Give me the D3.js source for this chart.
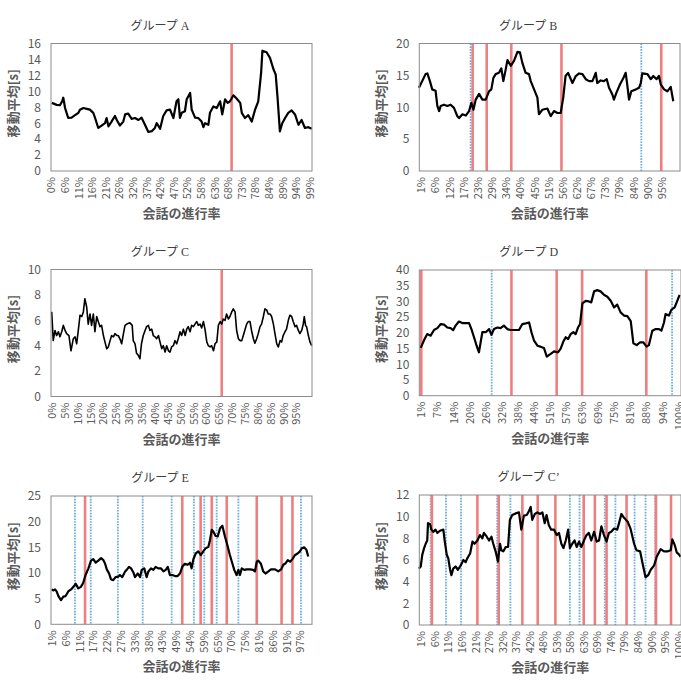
<!DOCTYPE html>
<html>
<head>
<meta charset="utf-8">
<script src="https://cdn.jsdelivr.net/npm/d3@7"></script>
<style>
  body { margin: 0; background: #fff; }
</style>
</head>
<body>
<script>
// ---- データ (x: 会話の進行率 %, y: 移動平均 s) ----

// グループ A
var aLabels = ['0%','6%','11%','16%','21%','26%','32%','37%','42%','47%','52%','58%','63%','68%','73%','78%','84%','89%','94%','99%'];
var aX = [0.3,2.2,3.4,4.3,4.7,5.4,6.6,7.9,9.2,10.5,
  11.1,12.4,13.7,14.9,16.2,16.9,18.1,19.4,20.7,21.3,
  22.0,23.2,24.5,25.2,26.4,27.7,28.4,29.6,30.9,32.2,
  33.5,34.7,36.0,37.3,38.6,39.8,40.5,41.8,43.0,44.3,
  45.6,46.9,48.1,48.8,49.4,50.1,51.3,52.0,53.3,53.9,
  55.2,56.4,57.7,58.4,59.0,60.3,60.9,62.2,63.5,64.8,
  65.6,66.7,67.7,68.6,69.9,71.1,72.5,73.1,74.3,75.6,
  76.9,78.2,79.4,80.5,81.0,82.6,83.9,85.2,86.1,86.8,
  87.7,88.6,89.7,90.9,92.2,93.5,94.8,96.0,97.3,98.6,
  99.9];
var aY = [8.55,8.3,8.25,8.76,9.2,7.9,6.65,6.7,7.0,7.3,
  7.7,7.9,7.8,7.7,7.3,6.65,5.4,5.7,6.0,6.65,
  5.6,6.2,6.9,6.4,5.7,6.2,7.1,7.2,6.55,6.65,
  6.4,6.7,5.8,4.9,5.0,5.4,6.0,5.3,6.9,7.6,
  7.7,6.65,8.75,9.0,6.65,7.3,7.5,9.0,9.8,7.7,
  6.7,6.65,6.2,5.5,6.0,5.8,7.3,8.1,7.9,8.75,
  7.1,9.0,8.55,8.75,9.5,9.1,8.55,7.3,6.65,7.0,
  6.2,7.7,8.75,12.3,15.1,14.9,14.2,12.8,12.1,9.2,
  4.97,6.0,6.65,7.3,7.6,7.1,5.8,6.4,5.4,5.5,
  5.3];
var aRed = [69.2];
var aBlue = [];

// グループ B
var bLabels = ['1%','6%','12%','17%','23%','29%','34%','40%','45%','51%','56%','62%','67%','73%','79%','84%','90%','95%'];
var bX = [0.2,1.5,2.8,3.5,4.5,5.4,6.7,7.4,8.1,8.7,
  10.0,11.3,12.6,13.9,15.2,15.9,17.2,18.5,19.8,20.7,
  21.5,22.4,23.7,25.0,26.3,27.6,28.5,29.3,30.2,31.5,
  32.4,33.2,34.1,34.8,36.1,37.4,38.7,39.7,40.6,41.9,
  43.2,43.9,45.2,46.5,47.1,48.4,50.4,51.7,53.0,54.3,
  55.6,56.6,57.5,58.5,60.2,61.5,62.8,64.1,65.4,66.7,
  68.0,69.3,69.9,71.2,72.5,73.6,74.5,75.8,76.4,77.4,
  78.8,80.1,81.0,81.6,82.3,83.2,84.9,86.2,86.9,87.5,
  89.5,90.8,91.8,93.1,94.0,94.7,96.0,97.3,98.6,99.6];
var bY = [13.05,14.1,15.2,15.3,14.1,12.8,12.6,10.2,9.4,10.2,
  10.4,10.2,10.4,9.9,8.6,8.3,8.9,8.7,9.4,10.7,
  9.6,11.2,12.1,11.2,11.2,12.5,12.8,14.6,15.2,15.4,
  16.1,14.1,15.9,17.4,16.5,17.3,18.7,18.6,17.0,15.4,
  15.2,14.1,12.8,11.5,8.9,9.6,9.8,8.6,9.4,9.1,
  9.1,11.5,14.9,15.4,13.8,14.9,15.3,15.2,14.4,14.1,
  14.1,15.4,13.8,14.2,14.1,14.4,13.05,12.0,11.2,12.3,
  13.6,14.6,15.4,13.6,11.2,12.5,12.8,13.05,13.8,15.3,
  15.2,14.4,14.9,14.4,14.9,13.6,12.8,12.5,13.2,10.95];
var bRed = [21.2,26.7,36.3,55.9,94.9];
var bBlue = [20.4,87.1];

// グループ C
var cLabels = ['0%','5%','10%','15%','20%','25%','30%','35%','40%','45%','50%','55%','60%','65%','70%','75%','80%','85%','90%','95%'];
var cX = [0,0.6,1.3,1.9,2.6,3.2,3.9,4.5,5.2,5.8,
  6.7,7.5,8.4,9.1,9.7,10.4,11.0,11.7,12.3,12.9,
  13.6,14.2,14.9,15.5,16.2,16.8,17.5,18.1,18.8,19.4,
  20.1,20.7,21.4,22.0,22.7,23.3,24.0,24.6,25.3,25.9,
  26.6,27.2,27.9,28.5,29.2,30.4,31.3,31.7,32.4,33.0,
  33.7,34.3,34.9,35.6,36.3,36.9,37.6,38.2,38.9,39.5,
  40.2,40.8,41.5,42.1,42.8,43.4,44.1,44.7,45.4,46.0,
  46.6,47.3,47.9,48.6,49.2,49.9,50.5,51.2,51.9,52.5,
  53.1,53.8,54.4,55.1,55.7,56.4,57.0,57.7,58.3,59.0,
  59.6,60.3,60.9,61.6,62.2,62.9,63.5,64.2,64.8,65.5,
  66.1,66.7,67.4,68.0,68.7,69.3,70.0,70.6,71.3,71.9,
  72.6,73.2,73.9,74.5,75.2,75.8,76.4,77.1,77.7,78.4,
  79.0,79.7,80.3,81.0,81.6,82.3,82.9,83.6,84.2,84.9,
  85.5,86.2,86.8,87.5,88.1,88.8,89.4,90.0,90.7,91.3,
  92.0,92.6,93.3,93.9,94.6,95.2,95.9,96.5,97.2,97.8,
  98.2,98.7,99.1,99.8,100.4,101.1];
var cY = [6.66,4.42,5.2,4.8,5.1,4.7,5.1,5.6,5.2,4.95,
  4.8,3.6,4.55,4.7,4.15,5.3,6.4,6.3,6.66,7.7,
  7.05,5.7,6.5,5.6,6.5,5.1,6.3,5.9,5.5,5.6,
  4.8,4.3,3.76,3.9,4.4,4.8,4.7,4.95,4.8,4.8,
  4.5,4.15,4.95,5.6,5.7,5.8,5.6,4.4,4.15,3.4,
  3.24,2.97,4.15,4.8,5.2,5.5,5.6,5.2,5.3,4.8,
  4.7,4.55,4.8,4.3,3.76,4.0,3.5,4.0,3.6,3.5,
  3.9,4.0,4.4,4.15,4.55,5.1,4.8,5.3,4.8,5.3,
  5.5,5.1,5.6,5.5,5.7,5.9,5.6,5.7,5.4,5.9,
  5.3,4.3,4.0,3.9,4.0,3.6,4.15,4.3,5.6,5.9,
  5.7,6.1,6.0,6.5,6.1,6.3,6.66,6.9,6.66,5.2,
  4.55,4.4,4.4,4.8,5.3,5.7,5.9,5.9,5.2,4.55,
  4.2,4.55,4.95,5.5,5.7,6.3,6.9,6.8,6.5,6.5,
  6.3,5.7,4.95,4.15,3.9,4.4,4.3,4.8,5.1,5.3,
  6.0,6.4,6.3,5.9,5.5,5.6,5.2,4.95,5.2,5.7,
  6.3,5.6,5.5,4.8,4.3,4.0];
var cRed = [66.1];
var cBlue = [];

// グループ D
var dLabels = ['1%','7%','14%','20%','26%','32%','38%','44%','51%','57%','63%','69%','75%','81%','88%','94%','100%'];
var dX = [0.9,2.2,3.4,4.7,6.0,7.3,8.6,9.9,11.1,12.4,
  13.4,14.3,15.6,16.9,18.2,19.5,20.4,21.4,22.4,23.3,
  24.6,25.9,27.2,28.1,29.1,30.4,31.6,32.9,34.2,35.5,
  36.8,38.7,40.0,41.3,42.6,43.5,44.5,45.8,47.0,48.3,
  49.4,50.9,52.2,53.7,54.7,55.8,56.7,57.6,58.6,59.6,
  60.5,61.4,62.2,63.1,64.4,65.6,66.5,67.6,68.8,70.1,
  71.4,72.7,74.0,75.3,76.5,77.8,79.1,80.4,81.7,82.7,
  84.0,85.3,86.5,87.8,88.7,90.0,91.3,92.6,93.5,94.5,
  95.1,96.4,97.3,98.6,99.6,100.5];
var dY = [15.2,17.7,19.6,19.1,20.9,21.5,22.8,22.6,21.7,21.5,
  20.9,22.3,23.6,23.1,23.1,23.1,21.2,18.6,15.9,13.8,
  20.2,20.2,21.2,19.4,21.2,21.7,21.5,22.3,21.2,20.9,
  20.9,20.9,22.8,23.0,23.3,20.2,17.5,15.9,15.6,15.2,
  12.4,13.3,14.1,13.8,14.9,17.3,18.6,18.0,19.6,20.2,
  19.6,21.7,22.8,29.4,30.2,30.0,29.7,33.2,33.6,33.2,
  32.1,31.5,30.2,28.1,29.0,26.5,25.5,25.3,23.7,16.7,
  16.1,17.0,17.0,15.6,16.1,20.7,21.2,21.2,20.7,23.3,
  26.0,25.5,27.3,28.1,30.2,32.1];
var dRed = [1.1,35.8,53.2,63.0,87.7];
var dBlue = [28.2,97.6];

// グループ E
var eLabels = ['1%','6%','11%','17%','22%','27%','33%','38%','43%','49%','54%','59%','65%','70%','75%','81%','86%','91%','97%'];
var eX = [1.0,1.6,2.3,2.9,3.6,4.6,5.5,6.4,7.4,8.5,
  9.4,10.3,11.3,12.3,13.2,14.1,15.2,16.2,17.1,18.0,
  19.0,20.1,21.0,21.6,22.3,23.2,23.9,24.8,25.7,26.8,
  27.4,28.3,29.4,30.0,30.9,31.7,32.6,33.2,34.3,35.2,
  35.8,36.8,37.7,38.4,39.4,40.3,41.2,42.2,43.3,44.2,
  45.1,45.9,46.7,47.6,48.7,49.7,50.6,51.5,52.5,53.6,
  54.5,55.1,55.8,56.7,57.7,58.7,59.6,60.5,61.6,62.2,
  62.9,63.5,64.4,65.2,66.1,67.0,68.0,69.1,69.9,70.9,
  71.6,72.5,73.2,73.8,74.5,75.5,76.4,77.7,78.9,79.6,
  80.3,80.9,81.9,82.8,83.7,84.8,85.8,87.4,88.6,89.7,
  90.6,91.5,92.3,93.2,94.1,95.1,96.1,97.0,97.7,98.7,
  99.5,100.2];
var eY = [6.8,6.6,6.8,6.4,5.5,4.7,5.4,5.5,6.4,6.8,
  7.3,7.9,7.0,7.3,8.1,9.6,10.9,12.4,12.7,12.0,
  12.4,12.9,12.5,11.9,10.7,9.9,8.8,8.6,9.2,9.3,
  9.6,9.2,10.3,10.6,11.2,10.9,10.1,9.2,9.9,9.2,
  10.6,10.9,9.2,10.3,10.9,10.6,11.2,10.9,10.9,10.3,
  10.6,11.2,9.6,9.6,9.4,9.4,9.9,11.2,11.8,11.6,
  12.0,10.9,12.7,13.8,14.2,13.5,14.2,14.8,15.1,16.4,
  18.4,18.1,17.2,17.1,18.7,19.2,17.1,15.1,13.5,11.8,
  10.6,9.6,10.6,9.6,10.9,10.6,10.7,10.7,10.6,10.3,
  12.2,12.4,11.8,10.3,9.9,10.3,10.7,10.7,10.3,10.7,
  11.6,11.9,12.5,12.2,12.7,13.5,13.8,14.2,14.8,15.0,
  14.5,13.2];
var eRed = [13.9,51.5,58.6,62.9,68.7,80.3,89.9,94.1];
var eBlue = [10.0,16.1,26.6,36.2,47.4,56.0,60.0,64.8,73.2,97.4];

// グループ C'
var c2Labels = ['1%','6%','11%','16%','21%','27%','32%','37%','42%','48%','53%','58%','63%','69%','74%','79%','84%','90%','95%','100%'];
var c2X = [0.2,0.9,1.5,2.2,2.8,3.4,3.7,4.5,5.0,5.7,
  6.6,7.3,8.3,9.6,10.1,10.9,11.5,12.2,12.7,13.4,
  14.3,15.2,16.3,17.3,18.2,18.8,19.9,20.8,21.6,22.7,
  23.7,24.6,25.2,26.3,27.2,28.1,28.8,29.7,30.6,31.4,
  31.9,32.7,33.6,34.5,35.2,36.1,37.4,38.7,39.6,40.6,
  41.7,42.5,43.2,43.8,44.8,45.8,46.8,47.7,48.6,49.3,
  50.2,51.1,52.2,53.2,54.1,55.0,55.8,56.7,57.6,58.3,
  59.2,60.1,60.9,61.8,62.7,63.7,64.7,65.6,66.5,67.6,
  68.6,69.5,70.4,71.4,72.4,73.3,74.2,75.3,76.5,77.2,
  78.1,78.8,79.7,80.6,81.6,83.0,83.9,85.3,86.5,87.4,
  88.4,89.4,90.7,91.7,93.2,94.5,96.0,97.1,97.7,98.6,
  99.4,100.3,100.9];
var c2Y = [5.2,5.4,6.5,7.1,7.5,7.8,9.4,9.3,8.8,8.6,
  8.8,8.5,8.7,8.8,7.8,6.5,6.15,5.1,4.6,5.2,
  5.4,5.1,5.5,6.0,5.8,6.15,6.6,7.7,7.5,7.8,
  8.3,8.0,8.5,8.15,7.8,8.15,7.5,6.8,5.85,7.5,
  6.9,6.8,7.2,7.2,9.7,10.15,10.3,10.4,8.8,10.1,
  10.15,10.5,10.9,9.7,10.25,10.4,10.25,10.4,9.4,10.15,
  9.2,8.8,8.8,8.3,8.5,7.5,7.1,7.8,8.8,7.1,
  7.5,7.8,7.2,7.7,7.2,7.8,8.3,8.5,7.8,8.6,
  7.7,7.8,9.1,8.3,7.7,8.5,8.6,8.9,8.8,9.4,
  10.25,10.0,9.75,9.5,8.9,7.5,6.9,6.8,5.4,4.4,
  4.6,5.1,5.5,6.3,7.0,6.8,6.8,6.9,7.9,7.4,
  6.7,6.5,6.3];
var c2Red = [5.2,22.7,30.9,40.0,45.9,52.7,63.6,67.9,72.4,80.1,91.4,97.2];
var c2Blue = [4.7,10.6,16.4,30.3,35.4,58.3,62.0,71.7,75.8,83.2,87.4,91.1];

// ---- レイアウト ----
var panels = [
  { title: 'グループ A', labels: aLabels, xs: aX, ys: aY, red: aRed, blue: aBlue,
    yMax: 16, yStep: 2, box: [51, 312, 43.5, 171], xr: [51, 312], lw: 2.2 },
  { title: 'グループ B', labels: bLabels, xs: bX, ys: bY, red: bRed, blue: bBlue,
    yMax: 20, yStep: 5, box: [419.3, 680, 43.5, 171], xr: [418.4, 674.3], lw: 2.2 },
  { title: 'グループ C', labels: cLabels, xs: cX, ys: cY, red: cRed, blue: cBlue,
    yMax: 10, yStep: 2, box: [51, 312, 269.5, 396.5], xr: [51.7, 308.9], lw: 1.6 },
  { title: 'グループ D', labels: dLabels, xs: dX, ys: dY, red: dRed, blue: dBlue,
    yMax: 40, yStep: 5, box: [419.3, 681, 270, 395.7], xr: [418.4, 678.3], lw: 2.2 },
  { title: 'グループ E', labels: eLabels, xs: eX, ys: eY, red: eRed, blue: eBlue,
    yMax: 25, yStep: 5, box: [51, 312, 496, 624.3], xr: [49.1, 307.7], lw: 2.2 },
  { title: 'グループ C\u2019', labels: c2Labels, xs: c2X, ys: c2Y, red: c2Red, blue: c2Blue,
    yMax: 12, yStep: 2, box: [419.3, 681, 495, 625], xr: [418.4, 678.3], lw: 2.2 }
];

var font = "'Noto Sans CJK JP', 'Noto Sans', sans-serif";
var gray = '#595959';

var svg = d3.select('body')
  .append('svg')
  .attr('width', 681)
  .attr('height', 682);

panels.forEach(function(p) {
  var x0 = p.box[0], x1 = p.box[1], y0 = p.box[2], y1 = p.box[3];
  var x = d3.scaleLinear().domain([0, 100]).range(p.xr);
  var y = d3.scaleLinear().domain([0, p.yMax]).range([y1, y0]);
  var g = svg.append('g');

  // 縦線 (青: 点線, 赤: 実線)
  g.selectAll('line.blue')
    .data(p.blue)
    .enter()
      .append('line')
        .attr('class', 'blue')
        .attr('x1', function(d){ return x(d); })
        .attr('x2', function(d){ return x(d); })
        .attr('y1', y0)
        .attr('y2', y1)
        .attr('stroke', '#6aaee0')
        .attr('stroke-width', 1.8)
        .attr('stroke-dasharray', '1.6,1.2');

  g.selectAll('line.red')
    .data(p.red)
    .enter()
      .append('line')
        .attr('class', 'red')
        .attr('x1', function(d){ return x(d); })
        .attr('x2', function(d){ return x(d); })
        .attr('y1', y0)
        .attr('y2', y1)
        .attr('stroke', '#ef7f7f')
        .attr('stroke-width', 2.6);

  // 移動平均
  var line = d3.line()
    .x(function(d){ return x(d[0]); })
    .y(function(d){ return y(d[1]); });

  g.append('path')
    .datum(d3.zip(p.xs, p.ys))
    .attr('d', line)
    .attr('fill', 'none')
    .attr('stroke', '#000')
    .attr('stroke-width', p.lw)
    .attr('stroke-linejoin', 'round');

  // 枠
  g.append('rect')
    .attr('x', x0)
    .attr('y', y0)
    .attr('width', x1 - x0)
    .attr('height', y1 - y0)
    .attr('fill', 'none')
    .attr('stroke', '#8c8c8c')
    .attr('stroke-width', 1);

  // y軸
  var yAxis = d3.axisLeft(y)
    .tickValues(d3.range(0, p.yMax + 0.001, p.yStep))
    .tickSize(0)
    .tickPadding(10);

  var ya = g.append('g')
    .attr('transform', 'translate(' + x0 + ',0)')
    .call(yAxis);
  ya.select('.domain').remove();
  ya.selectAll('text')
    .attr('font-family', font)
    .attr('font-size', 12)
    .attr('fill', gray);

  // x軸 (ラベルは等間隔)
  var first = parseFloat(p.labels[0]);
  var last = parseFloat(p.labels[p.labels.length - 1]);
  var step = (last - first) / (p.labels.length - 1);
  var tickPos = p.labels.map(function(d, i){ return first + i * step; });

  var xAxis = d3.axisBottom(x)
    .tickValues(tickPos)
    .tickFormat(function(d, i){ return p.labels[i]; })
    .tickSize(0);

  var xa = g.append('g')
    .attr('transform', 'translate(0,' + y1 + ')')
    .call(xAxis);
  xa.select('.domain').remove();
  xa.selectAll('text')
    .attr('font-family', font)
    .attr('font-size', 11)
    .attr('fill', gray)
    .attr('text-anchor', 'end')
    .attr('x', -6)
    .attr('y', 0)
    .attr('dy', '0.35em')
    .attr('transform', 'rotate(-90)');

  // タイトル
  g.append('text')
    .attr('x', (x0 + x1) / 2 - 21.5)
    .attr('y', y0 - 18)
    .attr('dy', '0.35em')
    .attr('text-anchor', 'middle')
    .attr('font-family', "'Liberation Serif', 'Noto Sans CJK JP', serif")
    .attr('font-size', 12)
    .attr('fill', '#404040')
    .text(p.title);

  // 軸タイトル
  g.append('text')
    .attr('transform', 'translate(' + (x0 - 38) + ',' + ((y0 + y1) / 2 - 4) + ') rotate(-90)')
    .attr('dy', '0.35em')
    .attr('text-anchor', 'middle')
    .attr('font-family', font)
    .attr('font-weight', 'bold')
    .attr('font-size', 13)
    .attr('fill', gray)
    .text('移動平均[s]');

  g.append('text')
    .attr('x', (x0 + x1) / 2)
    .attr('y', y1 + 42.5)
    .attr('dy', '0.35em')
    .attr('text-anchor', 'middle')
    .attr('font-family', font)
    .attr('font-weight', 'bold')
    .attr('font-size', 13)
    .attr('fill', gray)
    .text('会話の進行率');
});
</script>
</body>
</html>
